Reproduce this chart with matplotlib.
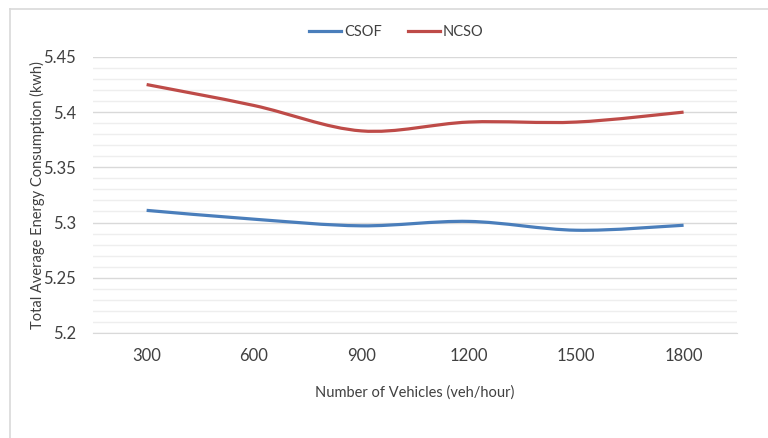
import matplotlib.pyplot as plt
import numpy as np
from matplotlib.path import Path
from matplotlib.patches import PathPatch
from matplotlib.lines import Line2D

plt.rcParams['font.family'] = ['Lato', 'DejaVu Sans']

# Data
vehicles = ['300', '600', '900', '1200', '1500', '1800']
csof = [5.311, 5.303, 5.297, 5.301, 5.293, 5.2975]
ncso = [5.425, 5.406, 5.383, 5.391, 5.391, 5.400]
yticks = [5.2, 5.25, 5.3, 5.35, 5.4, 5.45]
ytick_labels = ['5.2', '5.25', '5.3', '5.35', '5.4', '5.45']


def smooth_path(xs, ys):
    # Excel-style smoothed line: cubic Bezier segments through every point
    xs = np.asarray(xs, float)
    ys = np.asarray(ys, float)
    n = len(xs)
    verts = [(xs[0], ys[0])]
    codes = [Path.MOVETO]
    for i in range(n - 1):
        p0 = (xs[max(i - 1, 0)], ys[max(i - 1, 0)])
        p1 = (xs[i], ys[i])
        p2 = (xs[i + 1], ys[i + 1])
        p3 = (xs[min(i + 2, n - 1)], ys[min(i + 2, n - 1)])
        c1 = (p1[0] + (p2[0] - p0[0]) / 6, p1[1] + (p2[1] - p0[1]) / 6)
        c2 = (p2[0] - (p3[0] - p1[0]) / 6, p2[1] - (p3[1] - p1[1]) / 6)
        verts += [c1, c2, p2]
        codes += [Path.CURVE4] * 3
    return Path(verts, codes)


fig = plt.figure(figsize=(7.68, 4.38), dpi=100)
ax = fig.add_axes([0.121, 0.240, 0.839, 0.630])

x = np.arange(len(vehicles))
series = [('CSOF', csof, '#4A7EBB'), ('NCSO', ncso, '#BE4B48')]
for name, vals, col in series:
    patch = PathPatch(smooth_path(x, vals), facecolor='none', edgecolor=col,
                      lw=2.3, capstyle='butt', zorder=3)
    ax.add_patch(patch)

ax.set_xlim(-0.5, len(vehicles) - 0.5)
ax.set_ylim(5.2, 5.45)
ax.set_xticks(x)
ax.set_xticklabels(vehicles)
ax.set_yticks(yticks)
ax.set_yticklabels(ytick_labels)
ax.set_yticks(np.arange(5.21, 5.45, 0.01), minor=True)
ax.grid(True, axis='y', which='major', color='#D9D9D9', lw=1.0)
ax.grid(True, axis='y', which='minor', color='#EEEEEE', lw=1.0)
ax.set_axisbelow(True)
for s in ['top', 'right', 'left']:
    ax.spines[s].set_visible(False)
ax.spines['bottom'].set_color('#D9D9D9')
ax.tick_params(axis='both', which='both', length=0, labelsize=12,
               colors='#404040')
ax.tick_params(axis='x', pad=11)
ax.tick_params(axis='y', pad=12)

ax.set_xlabel('Number of Vehicles (veh/hour)', fontsize=10.5, color='#404040',
              va='center')
ax.set_ylabel('Total Average Energy Consumption (kwh)', fontsize=10.5,
              color='#404040', va='center')
ax.xaxis.set_label_coords(0.5, -0.217)
ax.yaxis.set_label_coords(-0.0854, 0.5)

handles = [Line2D([], [], color=c, lw=2.3) for _, _, c in series]
fig.legend(handles, [s[0] for s in series], loc='center',
           bbox_to_anchor=(0.516, 0.927), ncol=2, frameon=False,
           fontsize=10.5, handlelength=2.2, handletextpad=0.2,
           columnspacing=1.8, labelcolor='#404040')

# Light chart border (extends past the right and bottom edges)
fig.add_artist(Line2D([10 / 768, 10 / 768], [0, 1 - 9 / 438],
                      transform=fig.transFigure, color='#D9D9D9', lw=1.2))
fig.add_artist(Line2D([10 / 768, 1], [1 - 9 / 438, 1 - 9 / 438],
                      transform=fig.transFigure, color='#D9D9D9', lw=1.2))

plt.savefig('out.png', dpi=100)
